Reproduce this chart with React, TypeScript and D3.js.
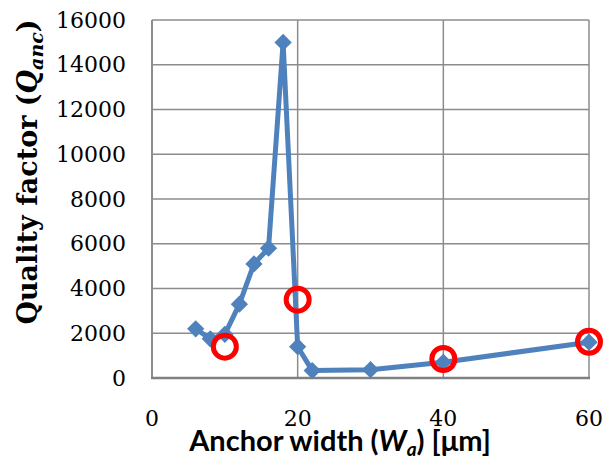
import React, { useEffect, useRef } from 'react'
import * as d3 from 'd3'

const widths = [6, 8, 10, 12, 14, 16, 18, 20, 22, 30, 40, 60]
const qValues = [2200, 1750, 1950, 3300, 5100, 5800, 15000, 1400, 330, 370, 700, 1600]
const markedWidths = [10, 20, 40, 60]
const markedValues = [1400, 3500, 850, 1620]
const xTicks = [0, 20, 40, 60]
const yTicks = [0, 2000, 4000, 6000, 8000, 10000, 12000, 14000, 16000]

export default function App() {
  const svgRef = useRef<SVGSVGElement>(null)

  useEffect(() => {
    const svg = d3.select(svgRef.current)
    svg.selectAll('*').remove()

    const margin = { top: 20, right: 15, bottom: 83, left: 152 }
    const width = 604
    const height = 461
    const x = d3.scaleLinear().domain([0, 60]).range([margin.left, width - margin.right])
    const y = d3.scaleLinear().domain([0, 16000]).range([height - margin.bottom, margin.top])
    const grid = '#8c8c8c'

    // grid lines
    svg.append('g').selectAll('line').data(yTicks.slice(1)).enter().append('line')
      .attr('x1', x(0)).attr('x2', x(60))
      .attr('y1', d => y(d)).attr('y2', d => y(d))
      .attr('stroke', grid).attr('stroke-width', 1.5)
    svg.append('g').selectAll('line').data(xTicks.slice(1)).enter().append('line')
      .attr('x1', d => x(d)).attr('x2', d => x(d))
      .attr('y1', y(0)).attr('y2', y(16000))
      .attr('stroke', grid).attr('stroke-width', 1.5)

    // axes lines
    svg.append('line').attr('x1', x(0)).attr('x2', x(0)).attr('y1', y(0)).attr('y2', y(16000))
      .attr('stroke', grid).attr('stroke-width', 2)
    svg.append('line').attr('x1', x(0) - 1).attr('x2', x(60) + 1).attr('y1', y(0)).attr('y2', y(0))
      .attr('stroke', '#808080').attr('stroke-width', 2.5)

    // tick labels
    svg.append('g').selectAll('text').data(yTicks).enter().append('text')
      .attr('x', 126).attr('y', d => y(d))
      .attr('text-anchor', 'end').attr('dominant-baseline', 'central')
      .style('font-family', 'DejaVu Serif').style('font-size', '22px').style('fill', '#000')
      .text(d => d)
    svg.append('g').selectAll('text').data(xTicks).enter().append('text')
      .attr('x', d => x(d)).attr('y', 418)
      .attr('text-anchor', 'middle').attr('dominant-baseline', 'central')
      .style('font-family', 'DejaVu Serif').style('font-size', '22px').style('fill', '#000')
      .text(d => d)

    // axis titles
    const xt = svg.append('text').attr('x', 340).attr('y', 451).attr('text-anchor', 'middle')
      .style('font-family', 'Lato').style('font-weight', 'bold').style('font-size', '29px')
    xt.append('tspan').text('Anchor width (')
    xt.append('tspan').style('font-style', 'italic').text('W')
    xt.append('tspan').style('font-style', 'italic').style('font-size', '19px').attr('dy', 5).text('a')
    xt.append('tspan').attr('dy', -5).text(') [μm]')

    const yt = svg.append('text').attr('transform', 'translate(37,172) rotate(-90)').attr('text-anchor', 'middle')
      .style('font-family', 'DejaVu Serif').style('font-weight', 'bold').style('font-size', '27px')
    yt.append('tspan').text('Quality factor (')
    yt.append('tspan').style('font-style', 'italic').text('Q')
    yt.append('tspan').style('font-style', 'italic').style('font-size', '19px').attr('dy', 6).text('anc')
    yt.append('tspan').attr('dy', -6).text(')')

    // data line
    const pts = widths.map((w, i) => [w, qValues[i]] as [number, number])
    const line = d3.line<[number, number]>().x(d => x(d[0])).y(d => y(d[1]))
    svg.append('path').attr('d', line(pts)).attr('fill', 'none')
      .attr('stroke', '#4f81bd').attr('stroke-width', 5).attr('stroke-linejoin', 'round')
    svg.append('g').selectAll('path').data(pts).enter().append('path')
      .attr('d', d3.symbol().type(d3.symbolDiamond2).size(190)())
      .attr('transform', d => `translate(${x(d[0])},${y(d[1])})`)
      .attr('fill', '#4f81bd')

    // highlighted points
    svg.append('g').selectAll('circle').data(markedWidths).enter().append('circle')
      .attr('cx', d => x(d)).attr('cy', (d, i) => y(markedValues[i]))
      .attr('r', 11.5).attr('fill', 'none').attr('stroke', '#ff0000').attr('stroke-width', 5)
  }, [])

  return (
    <svg ref={svgRef} width={604} height={461}
      style={{ position: 'absolute', left: 0, top: 0, background: '#fff' }} />
  )
}
